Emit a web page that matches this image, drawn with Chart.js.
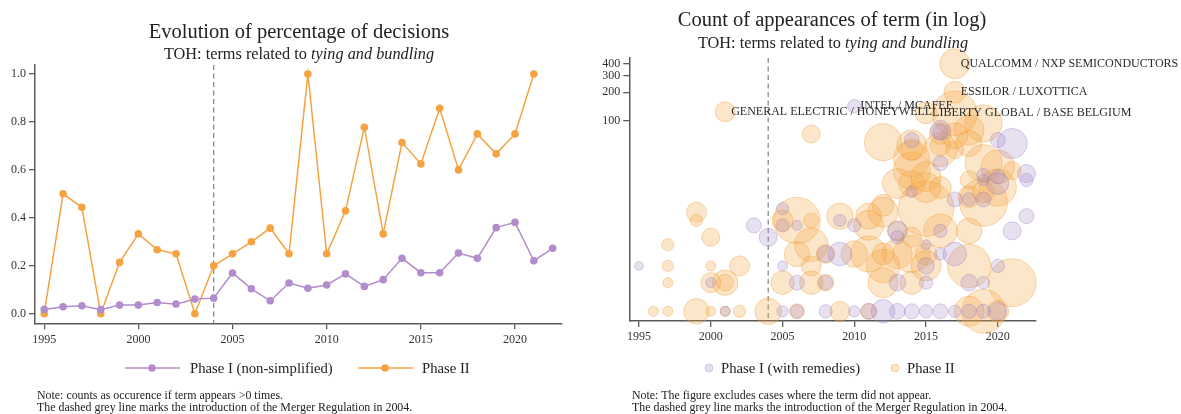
<!DOCTYPE html>
<html>
<head>
<meta charset="utf-8">
<script src="https://cdn.jsdelivr.net/npm/chart.js@4.4.0/dist/chart.umd.min.js"></script>
<style>
  body { margin: 0; background: #fff; }
  #wrap { position: relative; width: 1181px; height: 414px; overflow: hidden;
          font-family: 'Liberation Serif', 'DejaVu Serif', serif; color: #222; }
  canvas { position: absolute; top: 0; }
  .t { position: absolute; width: 600px; text-align: center; white-space: nowrap; }
  .title { font-size: 20.5px; line-height: 24px; }
  .sub { font-size: 16.3px; line-height: 20px; }
  .lg { position: absolute; font-size: 14.7px; line-height: 18px; white-space: nowrap; }
  .note { position: absolute; font-size: 11.9px; line-height: 11.6px; white-space: nowrap; }
</style>
</head>
<body>
<div id="wrap">
  <canvas id="shareChart" width="590" height="414" style="left:0"></canvas>
  <canvas id="countChart" width="591" height="414" style="left:590px"></canvas>

  <div class="t title" style="left:-1px; top:19px;">Evolution of percentage of decisions</div>
  <div class="t sub" style="left:-1px; top:44px;">TOH: terms related to <i>tying and bundling</i></div>
  <div class="t title" style="left:532px; top:7px;">Count of appearances of term (in log)</div>
  <div class="t sub" style="left:533px; top:33px;">TOH: terms related to <i>tying and bundling</i></div>

  <!-- legend, left -->
  <svg style="position:absolute; left:124px; top:362px" width="58" height="12">
    <line x1="1" y1="6" x2="56" y2="6" stroke="#b28ccc" stroke-width="1.5"/>
    <circle cx="28" cy="6" r="3.8" fill="#b28ccc"/>
  </svg>
  <div class="lg" style="left:190px; top:359px;">Phase I (non-simplified)</div>
  <svg style="position:absolute; left:357px; top:362px" width="58" height="12">
    <line x1="1" y1="6" x2="56" y2="6" stroke="#f4a340" stroke-width="1.5"/>
    <circle cx="28" cy="6" r="3.8" fill="#f4a340"/>
  </svg>
  <div class="lg" style="left:422px; top:359px;">Phase II</div>

  <!-- legend, right -->
  <svg style="position:absolute; left:703px; top:362px" width="12" height="12">
    <circle cx="6" cy="6" r="4" fill="rgba(160,130,200,0.25)" stroke="rgba(150,120,190,0.35)"/>
  </svg>
  <div class="lg" style="left:721px; top:359px;">Phase I (with remedies)</div>
  <svg style="position:absolute; left:889px; top:362px" width="12" height="12">
    <circle cx="6" cy="6" r="4" fill="rgba(244,164,64,0.28)" stroke="rgba(240,160,60,0.4)"/>
  </svg>
  <div class="lg" style="left:907px; top:359px;">Phase II</div>

  <div class="note" style="left:37px; top:390px;">Note: counts as occurence if term appears &gt;0 times.<br>The dashed grey line marks the introduction of the Merger Regulation in 2004.</div>
  <div class="note" style="left:632px; top:390px;">Note: The figure excludes cases where the term did not appear.<br>The dashed grey line marks the introduction of the Merger Regulation in 2004.</div>
</div>

<script>
// ---- data: share of decisions mentioning the term ----
const years = [1995, 1996, 1997, 1998, 1999, 2000, 2001, 2002, 2003, 2004,
               2005, 2006, 2007, 2008, 2009, 2010, 2011, 2012, 2013, 2014,
               2015, 2016, 2017, 2018, 2019, 2020, 2021, 2022];
const phase1Share = [0.018, 0.029, 0.033, 0.017, 0.036, 0.036, 0.047, 0.040, 0.061, 0.065,
                     0.170, 0.104, 0.054, 0.128, 0.106, 0.120, 0.166, 0.114, 0.142, 0.231,
                     0.171, 0.171, 0.253, 0.231, 0.359, 0.381, 0.221, 0.273];
const phase2Share = [0, 0.5, 0.444, 0, 0.214, 0.333, 0.267, 0.25, 0, 0.2,
                     0.25, 0.3, 0.357, 0.25, 1.0, 0.25, 0.429, 0.778, 0.333, 0.714,
                     0.625, 0.857, 0.6, 0.75, 0.667, 0.75, 1.0, null];
const shareTicks = [0, 0.2, 0.4, 0.6, 0.8, 1.0];
const yearTicks = [1995, 2000, 2005, 2010, 2015, 2020];
const countTicks = [100, 200, 300, 400];
const regulationYear = 2004;

// ---- data: counts per decision (bubble weight ~ area) ----
const p1Years = [1995, 2000, 2001, 2003, 2004, 2005, 2005, 2005, 2005, 2006, 2006, 2006,
                 2008, 2008, 2008, 2009, 2009, 2010, 2010, 2010, 2011, 2012, 2013, 2013,
                 2013, 2013, 2014, 2014, 2014, 2015, 2015, 2015, 2015, 2016, 2016, 2016,
                 2016, 2016, 2016, 2017, 2017, 2017, 2018, 2018, 2018, 2019, 2019, 2019,
                 2019, 2019, 2020, 2020, 2020, 2020, 2020, 2021, 2021, 2022, 2022, 2022];
const p1Counts = [3, 2, 1, 8, 6, 1, 3, 12, 8, 8, 2, 1,
                  1, 2, 4, 9, 4, 8, 1, 143, 1, 1, 7, 6,
                  2, 1, 63, 18, 1, 1, 2, 3, 5, 1, 7, 4,
                  77, 36, 80, 1, 4, 15, 2, 15, 1, 2, 24, 15,
                  27, 1, 63, 3, 22, 26, 1, 58, 7, 28, 24, 10];
const p1Weights = [3, 4, 4, 9, 13, 5, 4, 6, 7, 4, 9, 7,
                   7, 8, 11, 6, 22, 7, 5, 7, 10, 22, 16, 7,
                   11, 10, 9, 5, 9, 7, 7, 11, 4, 9, 7, 6,
                   9, 9, 16, 6, 22, 9, 11, 7, 8, 6, 5, 9,
                   7, 8, 9, 7, 19, 8, 13, 36, 13, 13, 7, 9];

const p2Years = [1996, 1997, 1997, 1997, 1997, 1999, 1999, 1999, 2000, 2000, 2000, 2000,
                 2001, 2001, 2001, 2001, 2002, 2002, 2004, 2005, 2005, 2006, 2006, 2006,
                 2007, 2007, 2007, 2007, 2007, 2008, 2008, 2009, 2009, 2010, 2011, 2011,
                 2011, 2011, 2012, 2012, 2012, 2012, 2012, 2012, 2013, 2013, 2013, 2014,
                 2014, 2014, 2014, 2014, 2014, 2014, 2014, 2015, 2015, 2015, 2015, 2015,
                 2015, 2016, 2016, 2016, 2016, 2016, 2017, 2017, 2017, 2017, 2017, 2018,
                 2018, 2018, 2018, 2018, 2018, 2018, 2019, 2019, 2019, 2019, 2019, 2020,
                 2020, 2020, 2021, 2021];
const p2Counts = [1, 1, 2, 3, 5, 1, 11, 9, 1, 2, 3, 6,
                  2, 2, 1, 125, 1, 3, 1, 2, 9, 1, 9, 4,
                  73, 9, 5, 3, 2, 2, 4, 1, 10, 4, 1, 8,
                  4, 10, 60, 11, 13, 3, 2, 4, 22, 4, 7, 56,
                  50, 40, 22, 4, 2, 6, 30, 122, 26, 20, 12, 3,
                  4, 74, 50, 55, 20, 7, 400, 200, 120, 50, 70, 80,
                  58, 24, 7, 3, 1, 16, 94, 36, 14, 1, 18, 33,
                  20, 1, 2, 30];
const p2Weights = [4, 4, 4, 5, 6, 26, 16, 6, 4, 16, 4, 13,
                   26, 11, 4, 16, 6, 16, 28, 22, 18, 9, 87, 26,
                   13, 9, 45, 16, 22, 11, 14, 16, 28, 28, 10, 36,
                   52, 27, 55, 36, 19, 45, 36, 19, 36, 36, 14, 36,
                   19, 52, 27, 55, 22, 16, 55, 19, 36, 36, 123, 36,
                   19, 19, 45, 16, 19, 45, 36, 19, 80, 13, 27, 36,
                   27, 13, 26, 75, 36, 19, 55, 55, 92, 77, 19, 45,
                   55, 19, 92, 13];

// labelled cases
const caseNames = ['QUALCOMM / NXP SEMICONDUCTORS', 'ESSILOR / LUXOTTICA', 'LIBERTY GLOBAL / BASE BELGIUM',
                   'INTEL / MCAFEE', 'GENERAL ELECTRIC / HONEYWELL'];
const caseYears = [2017, 2017, 2015, 2010, 2001];
const caseCounts = [400, 200, 122, 143, 125];

const serif = "'Liberation Serif', 'DejaVu Serif', serif";
const orange = '#f4a340';
const purple = '#b28ccc';

function bubbleR(w) { return 2.5 * Math.sqrt(w); }

function fixedTicks(list) {
  return function(scale) { scale.ticks = list.map(v => ({ value: v })); };
}

const regulationLine = {
  id: 'regulationLine',
  beforeDatasetsDraw(chart) {
    const ctx = chart.ctx, a = chart.chartArea;
    const x = chart.scales.x.getPixelForValue(regulationYear);
    ctx.save();
    ctx.strokeStyle = '#8a8a8a';
    ctx.lineWidth = 1.3;
    ctx.setLineDash([5, 3.5]);
    ctx.beginPath();
    ctx.moveTo(x, a.top);
    ctx.lineTo(x, a.bottom);
    ctx.stroke();
    ctx.restore();
  }
};

const caseLabels = {
  id: 'caseLabels',
  afterDatasetsDraw(chart) {
    const ctx = chart.ctx;
    ctx.save();
    ctx.font = '12px ' + serif;
    ctx.fillStyle = '#2a2a2a';
    ctx.textBaseline = 'middle';
    caseNames.forEach((name, i) => {
      const x = chart.scales.x.getPixelForValue(caseYears[i]);
      const y = chart.scales.y.getPixelForValue(caseCounts[i]);
      ctx.fillText(name, x + 6, y);
    });
    ctx.restore();
  }
};

function axisStyle() {
  return {
    grid: { drawOnChartArea: false, drawTicks: true, tickLength: 6, color: '#5a5a5a', lineWidth: 1.3 },
    border: { color: '#5a5a5a', width: 1.5 },
    ticks: { font: { family: serif, size: 12 }, color: '#333', padding: 3, autoSkip: false, maxRotation: 0 }
  };
}

// ---- left: line chart ----
const xL = axisStyle();
xL.type = 'linear'; xL.min = 1994.51; xL.max = 2022.48;
xL.afterBuildTicks = fixedTicks(yearTicks);
xL.afterFit = s => { s.height = 30; };
xL.ticks.callback = v => String(v);
const yL = axisStyle();
yL.min = -0.04; yL.max = 1.0375;
yL.afterBuildTicks = fixedTicks(shareTicks);
yL.afterFit = s => { s.width = 35; };
yL.ticks.callback = v => v.toFixed(1);

new Chart(document.getElementById('shareChart'), {
  type: 'line',
  data: {
    labels: years,
    datasets: [
      { label: 'Phase I (non-simplified)', data: years.map((y, i) => ({ x: y, y: phase1Share[i] })),
        borderColor: purple, backgroundColor: purple, borderWidth: 1.5,
        pointRadius: 3.8, pointBorderWidth: 0, pointBackgroundColor: purple, tension: 0 },
      { label: 'Phase II', data: years.map((y, i) => ({ x: y, y: phase2Share[i] })),
        borderColor: orange, backgroundColor: orange, borderWidth: 1.5,
        pointRadius: 3.8, pointBorderWidth: 0, pointBackgroundColor: orange, tension: 0 }
    ]
  },
  options: {
    responsive: false, animation: false, events: [],
    layout: { padding: { left: 0, top: 65, right: 28.3, bottom: 60.7 } },
    plugins: { legend: { display: false }, tooltip: { enabled: false } },
    scales: { x: xL, y: yL }
  },
  plugins: [regulationLine]
});

// ---- right: bubble chart ----
const xR = axisStyle();
xR.type = 'linear'; xR.min = 1994.32; xR.max = 2022.64;
xR.afterBuildTicks = fixedTicks(yearTicks);
xR.afterFit = s => { s.height = 30; };
xR.ticks.callback = v => String(v);
const yR = axisStyle();
yR.type = 'logarithmic'; yR.min = 0.791; yR.max = 459;
yR.afterBuildTicks = fixedTicks(countTicks);
yR.afterFit = s => { s.width = 39.3; };
yR.ticks.callback = v => String(v);

new Chart(document.getElementById('countChart'), {
  type: 'bubble',
  data: {
    datasets: [
      { label: 'Phase I (with remedies)',
        data: p1Years.map((y, i) => ({ x: y, y: p1Counts[i], r: bubbleR(p1Weights[i]) })),
        backgroundColor: 'rgba(160,130,200,0.25)', borderColor: 'rgba(150,120,190,0.35)', borderWidth: 1, clip: false },
      { label: 'Phase II',
        data: p2Years.map((y, i) => ({ x: y, y: p2Counts[i], r: bubbleR(p2Weights[i]) })),
        backgroundColor: 'rgba(244,164,64,0.28)', borderColor: 'rgba(240,160,60,0.4)', borderWidth: 1, clip: false }
    ]
  },
  options: {
    responsive: false, animation: false, events: [],
    layout: { padding: { left: 0, top: 58, right: 145.3, bottom: 63 } },
    plugins: { legend: { display: false }, tooltip: { enabled: false } },
    scales: { x: xR, y: yR }
  },
  plugins: [regulationLine, caseLabels]
});
</script>
</body>
</html>
